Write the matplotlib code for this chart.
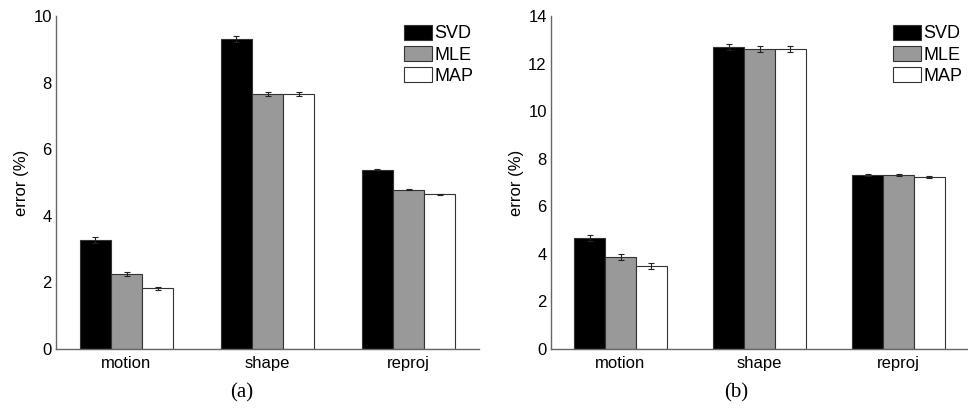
import matplotlib.pyplot as plt
import numpy as np

categories = ["motion", "shape", "reproj"]
methods = ["SVD", "MLE", "MAP"]

# panel (a)
err_a = {"SVD": [3.28, 9.32, 5.39], "MLE": [2.25, 7.66, 4.78], "MAP": [1.82, 7.66, 4.64]}
std_a = {"SVD": [0.09, 0.09, 0.02], "MLE": [0.05, 0.05, 0.02], "MAP": [0.05, 0.05, 0.02]}
# panel (b)
err_b = {"SVD": [4.66, 12.71, 7.32], "MLE": [3.87, 12.62, 7.32], "MAP": [3.50, 12.62, 7.23]}
std_b = {"SVD": [0.13, 0.13, 0.03], "MLE": [0.12, 0.12, 0.03], "MAP": [0.13, 0.12, 0.03]}

colors = {"SVD": "black", "MLE": "#999999", "MAP": "white"}
plt.rcParams["font.family"] = ["Liberation Sans", "DejaVu Sans"]

fig = plt.figure(figsize=(9.68, 4.11), dpi=100)
W, H = 968, 411
panels = [(err_a, std_a, 10, 56, 479, "(a)", 242), (err_b, std_b, 14, 551, 968, "(b)", 736)]

for err, std, ymax, x0, x1, cap, capx in panels:
    ax = fig.add_axes([x0 / W, 1 - 349 / H, (x1 - x0) / W, (349 - 16) / H])
    x = np.arange(1, 4)
    bw = 0.222
    for i, m in enumerate(methods):
        ax.bar(x + (i - 1) * bw, err[m], bw, color=colors[m], edgecolor="#333333",
               linewidth=0.8, label=m)
        ax.errorbar(x + (i - 1) * bw, err[m], yerr=std[m], fmt="none", ecolor="#222222",
                    elinewidth=0.8, capsize=2.5, capthick=0.8)
    ax.set_xlim(0.5, 3.5)
    ax.set_ylim(0, ymax)
    ax.set_yticks(np.arange(0, ymax + 1, 2))
    ax.set_xticks(x)
    ax.set_xticklabels(categories)
    ax.tick_params(axis="y", length=0, labelsize=12, pad=3)
    ax.tick_params(axis="x", length=0, labelsize=12, pad=5)
    ax.set_ylabel("error (%)", fontsize=12, labelpad=3)
    for s in ["top", "right"]:
        ax.spines[s].set_visible(False)
    for s in ["left", "bottom"]:
        ax.spines[s].set_color("#666666")
        ax.spines[s].set_linewidth(1.0)
    ax.legend(loc="upper right", frameon=False, fontsize=13, handlelength=1.55,
              handleheight=0.9, handletextpad=0.17, labelspacing=0.2,
              borderaxespad=0.1, borderpad=0.2, bbox_to_anchor=(1.0, 0.99))
    fig.text(capx / W, 1 - 393 / H, cap, ha="center", va="center", fontsize=15,
             family="Liberation Serif")

fig.savefig("out.png", dpi=100)
